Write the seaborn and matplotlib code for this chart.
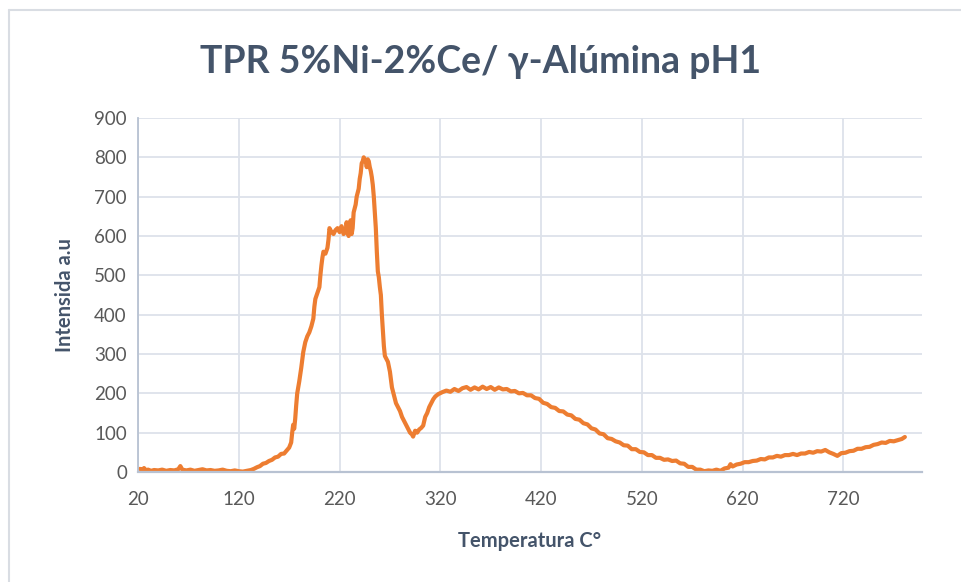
import matplotlib
matplotlib.use("Agg")
import matplotlib.pyplot as plt
import seaborn as sns
import pandas as pd
from matplotlib.lines import Line2D

# ---- data ----
temperatura = [
    22, 24, 26, 28, 30, 33, 36, 40, 44, 48, 52, 56, 60, 62, 64, 68, 72, 76, 80, 84,
    88, 92, 96, 100, 104, 108, 112, 116, 120, 124, 128, 132, 135, 138, 141, 144, 147, 150, 153, 156,
    159, 162, 165, 168, 170, 172, 173, 174, 175, 176, 177, 178, 180, 182, 184, 186, 188, 190, 192, 194,
    195, 196, 198, 200, 201, 202, 203, 204, 206, 208, 209, 210, 211, 212, 214, 216, 218, 220, 222, 224,
    226, 227, 228, 229, 230, 231, 232, 233, 234, 236, 237, 239, 240, 241, 242, 243, 244, 245, 246, 247,
    248, 249, 250, 251, 252, 253, 254, 255, 256, 257, 258, 259, 260, 261, 262, 263, 264, 265, 266, 268,
    270, 272, 274, 276, 278, 280, 282, 284, 286, 288, 290, 292, 293, 295, 297, 299, 301, 303, 305, 307,
    309, 311, 313, 315, 318, 322, 326, 330, 334, 338, 342, 346, 350, 354, 358, 362, 366, 370, 374, 378,
    382, 386, 390, 394, 398, 402, 406, 410, 414, 418, 422, 426, 430, 434, 438, 442, 446, 450, 454, 458,
    462, 466, 470, 474, 478, 482, 486, 490, 494, 498, 502, 506, 510, 514, 518, 522, 526, 530, 534, 538,
    542, 546, 550, 554, 558, 562, 566, 570, 574, 578, 582, 586, 590, 594, 598, 602, 606, 608, 610, 614,
    618, 622, 626, 630, 634, 638, 642, 646, 650, 654, 658, 662, 666, 670, 674, 678, 682, 686, 690, 694,
    698, 702, 706, 710, 714, 718, 722, 726, 730, 734, 738, 742, 746, 750, 754, 758, 762, 766, 770, 774,
    778, 781,
]
intensidad = [
    8, 5, 10, 4, 6, 3, 5, 4, 6, 3, 5, 4, 7, 15, 6, 4, 6, 3, 5, 7,
    4, 5, 3, 4, 6, 3, 2, 4, 2, 1, 3, 5, 8, 12, 15, 21, 23, 28, 31, 37,
    39, 46, 47, 56, 62, 75, 100, 120, 110, 135, 170, 200, 230, 265, 305, 330, 345, 355, 370, 390,
    420, 440, 455, 470, 500, 525, 545, 560, 555, 570, 590, 620, 615, 610, 605, 615, 620, 610, 625, 605,
    610, 635, 615, 600, 620, 640, 605, 620, 660, 680, 700, 720, 745, 760, 785, 790, 800, 795, 790, 775,
    795, 790, 775, 765, 750, 730, 700, 660, 620, 560, 510, 495, 470, 450, 400, 360, 320, 295, 290, 280,
    255, 215, 195, 175, 165, 155, 140, 130, 120, 110, 100, 95, 90, 105, 100, 108, 112, 118, 140, 150,
    165, 175, 185, 192, 198, 203, 207, 204, 211, 206, 213, 216, 209, 215, 210, 217, 211, 216, 209, 215,
    210, 211, 205, 206, 200, 201, 195, 195, 188, 186, 176, 173, 165, 163, 155, 154, 146, 144, 135, 133,
    124, 121, 111, 108, 98, 96, 86, 84, 78, 75, 68, 67, 58, 58, 51, 50, 43, 43, 36, 36,
    31, 32, 28, 29, 22, 21, 13, 13, 6, 6, 2, 4, 3, 6, 3, 9, 11, 20, 14, 19,
    21, 25, 25, 28, 29, 33, 32, 37, 37, 41, 39, 43, 43, 46, 43, 47, 47, 51, 49, 53,
    52, 56, 50, 46, 41, 48, 49, 53, 54, 59, 59, 63, 64, 69, 71, 75, 74, 79, 78, 81,
    84, 89,
]
x_ticks = [20, 120, 220, 320, 420, 520, 620, 720]
y_ticks = [0, 100, 200, 300, 400, 500, 600, 700, 800, 900]

title = "TPR 5%Ni-2%Ce/ γ-Alúmina pH1"
x_label = "Temperatura C°"
y_label = "Intensida a.u"

df = pd.DataFrame({"Temperatura": temperatura, "Intensidad": intensidad})

# ---- styling ----
sns.set_theme(style="white")
plt.rcParams["font.family"] = ["Lato", "DejaVu Sans"]

fig = plt.figure(figsize=(9.61, 5.82), dpi=100)
ax = fig.add_axes([138 / 961, 1 - 472 / 582, (922 - 138) / 961, (472 - 118) / 582])

sns.lineplot(data=df, x="Temperatura", y="Intensidad", ax=ax,
             color="#ED7D31", linewidth=3.0, estimator=None, sort=False)

ax.set_xlim(20, 798)
ax.set_ylim(0, 900)
ax.set_xticks(x_ticks)
ax.set_yticks(y_ticks)
ax.set_xticklabels([str(v) for v in x_ticks])
ax.set_yticklabels([str(v) for v in y_ticks])

grid_c = "#DDE2EA"
ax.grid(True, color=grid_c, linewidth=1.3)
ax.set_axisbelow(True)
for s in ["top", "right"]:
    ax.spines[s].set_visible(False)
ax.spines["left"].set_color("#B8C2D2")
ax.spines["left"].set_linewidth(1.3)
ax.spines["bottom"].set_color("#B8C2D2")
ax.spines["bottom"].set_linewidth(1.6)

ax.tick_params(axis="both", length=0, labelsize=13.5, labelcolor="#595959")
ax.tick_params(axis="x", pad=14)
ax.tick_params(axis="y", pad=8)

ax.set_xlabel(x_label, fontsize=14.5, fontweight="bold", color="#44546A", labelpad=16)
ax.set_ylabel(y_label, fontsize=14.5, fontweight="bold", color="#44546A", labelpad=14)

fig.text(0.5, 1 - 62 / 582, title, ha="center", va="center",
         fontsize=27, fontweight="bold", color="#44546A",
         family=["Lato", "DejaVu Sans"])

# chart-area border (left and top edges visible in the reference)
fig.add_artist(Line2D([9 / 961, 9 / 961], [0, 1 - 10 / 582], transform=fig.transFigure,
                      color="#D9DDE3", linewidth=1.5))
fig.add_artist(Line2D([9 / 961, 1], [1 - 10 / 582, 1 - 10 / 582], transform=fig.transFigure,
                      color="#D9DDE3", linewidth=1.5))

fig.savefig("out.png", dpi=100)
